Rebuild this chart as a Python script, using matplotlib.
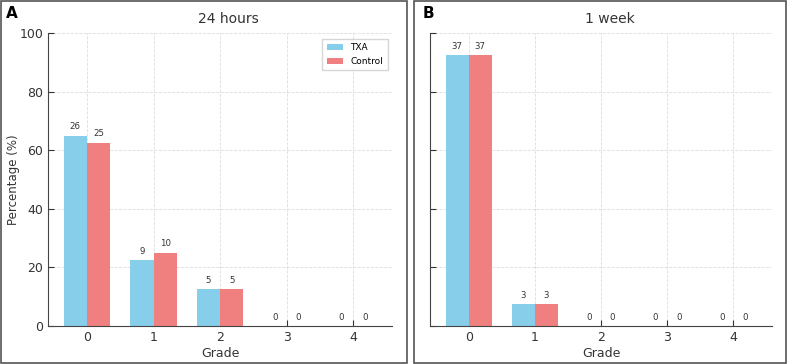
import matplotlib
matplotlib.use("Agg")
import matplotlib.pyplot as plt
import numpy as np
from matplotlib.patches import Rectangle

grades = [0, 1, 2, 3, 4]
n_patients = 40
txa_24h = [26, 9, 5, 0, 0]
ctrl_24h = [25, 10, 5, 0, 0]
txa_1w = [37, 3, 0, 0, 0]
ctrl_1w = [37, 3, 0, 0, 0]

TXA_COLOR = "#87CEEB"
CTRL_COLOR = "#F08080"
TEXT = "#333333"

fig = plt.figure(figsize=(7.88, 3.64), dpi=100)

# panel frames
for x0, w in [(0.001, 0.515), (0.526, 0.472)]:
    fig.patches.append(Rectangle((x0, 0.002), w, 0.996, transform=fig.transFigure,
                                 fill=False, edgecolor="#555555", linewidth=1.2))

ax1 = fig.add_axes([0.061, 0.1044, 0.4365, 0.805])
ax2 = fig.add_axes([0.5457, 0.1044, 0.434, 0.805])


def draw(ax, txa, ctrl, title, ylabels=True, legend=False):
    x = np.arange(len(grades))
    w = 0.35
    txa_pct = np.array(txa) / n_patients * 100
    ctrl_pct = np.array(ctrl) / n_patients * 100
    b1 = ax.bar(x - w / 2, txa_pct, w, color=TXA_COLOR, label="TXA", zorder=2)
    b2 = ax.bar(x + w / 2, ctrl_pct, w, color=CTRL_COLOR, label="Control", zorder=2)
    for bars, counts in [(b1, txa), (b2, ctrl)]:
        for b, c in zip(bars, counts):
            ax.text(b.get_x() + b.get_width() / 2, b.get_height() + 1.5, str(c),
                    ha="center", va="bottom", fontsize=6.2, color=TEXT)
    ax.set_ylim(0, 100)
    ax.set_xticks(x)
    ax.set_xticklabels([str(g) for g in grades])
    ax.set_yticks([0, 20, 40, 60, 80, 100])
    if not ylabels:
        ax.set_yticklabels([])
    else:
        ax.set_ylabel("Percentage (%)", fontsize=8.5, color=TEXT)
        ax.yaxis.set_label_coords(-0.081, 0.5)
    ax.set_xlabel("Grade", fontsize=9, color=TEXT, labelpad=2)
    ax.set_title(title, fontsize=10, color=TEXT, pad=7, x=0.525)
    ax.tick_params(direction="in", labelsize=9, colors=TEXT, length=4)
    ax.grid(True, linestyle="--", linewidth=0.6, color="#dddddd", zorder=0)
    for s in ["top", "right"]:
        ax.spines[s].set_visible(False)
    for s in ["left", "bottom"]:
        ax.spines[s].set_color("#444444")
    if legend:
        ax.legend(loc="upper right", fontsize=6.5, frameon=True, fancybox=False,
                  edgecolor="#cccccc", handlelength=1.8, borderpad=0.5,
                  bbox_to_anchor=(1.0, 0.995))


draw(ax1, txa_24h, ctrl_24h, "24 hours", legend=True)
draw(ax2, txa_1w, ctrl_1w, "1 week", ylabels=False)

fig.text(6 / 788, 1 - 14 / 364, "A", fontsize=11, fontweight="bold", va="center")
fig.text(423 / 788, 1 - 14 / 364, "B", fontsize=11, fontweight="bold", va="center")

fig.savefig("out.png", dpi=100)
